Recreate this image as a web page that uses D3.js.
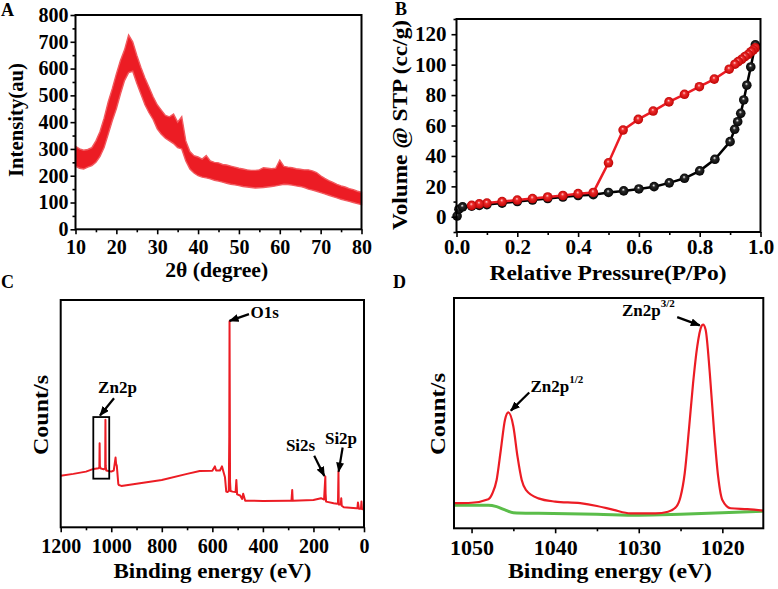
<!DOCTYPE html>
<html><head><meta charset="utf-8">
<script src="https://cdn.jsdelivr.net/npm/d3@7"></script>
<style>
body{margin:0;background:#fff;}
svg{display:block;}
</style>
</head><body>
<svg id="c" width="778" height="589"></svg>
<script>
// ---------------- DATA ----------------
// Panel A: XRD (noisy band: upper and lower envelopes)
const xrdAngle = [10,11,12,13,14,15,16,17,18,19,20,21,22,23,24,25,26,27,28,29,30,31,32,33,34,35,36,37,38,39,40,41,42,43,44,45,46,47,48,49,50,51,52,53,54,55,56,57,58,59,60,61,62,63,64,65,66,67,68,69,70,71,72,73,74,75,76,77,78,79,80];
const xrdUpper = [310,300,295,298,305,330,365,415,475,525,580,630,670,725,700,650,605,565,530,495,465,445,425,420,430,400,420,330,290,275,270,262,275,255,250,248,242,240,236,232,228,225,222,220,220,222,230,228,226,228,258,235,232,230,226,224,222,222,218,212,200,190,182,175,168,162,158,152,148,142,138];
const xrdLower = [235,228,225,232,238,250,272,305,355,405,450,505,555,585,590,545,505,465,435,410,375,355,340,330,320,305,300,255,225,210,200,195,192,188,183,180,176,172,168,166,163,160,158,156,154,155,156,158,160,162,165,168,167,165,162,160,156,150,146,142,137,132,127,122,117,112,108,104,100,96,92];
const aXTicks = [10,20,30,40,50,60,70,80];
const aXMinor = [15,25,35,45,55,65,75];
const aYTicks = [0,100,200,300,400,500,600,700,800];
const aYMinor = [50,150,250,350,450,550,650,750];

// Panel B: N2 isotherm
const adsP = [0.002,0.008,0.02,0.05,0.075,0.1,0.15,0.2,0.25,0.3,0.35,0.4,0.45,0.5,0.55,0.6,0.65,0.7,0.75,0.8,0.85,0.9,0.915,0.925,0.935,0.945,0.955,0.968,0.983];
const adsV = [0.5,5,6.5,7,7.5,8,9,10,11,12,13,14,14.5,16,17,18.3,19.8,22.3,25.3,30.2,37.8,49.4,57.5,62.5,68,76.8,86.5,98.5,113];
const desP = [0.983,0.976,0.969,0.96,0.949,0.938,0.927,0.916,0.897,0.848,0.799,0.75,0.699,0.647,0.598,0.548,0.5,0.45,0.4,0.35,0.3,0.25,0.2,0.15,0.1,0.075,0.05];
const desV = [111,109.6,108.5,106.8,105.3,103.5,102,100.3,97,90.5,85.5,80.5,75.5,69.5,64,57,35.5,16,15.2,14,13,12,11,10,9,8.5,7.5];
const bXTicks = [0,0.2,0.4,0.6,0.8,1.0];
const bXMinor = [0.1,0.3,0.5,0.7,0.9];
const bYTicks = [0,20,40,60,80,100,120];
const bYMinor = [-10,10,30,50,70,90,110,130];

// Panel C: XPS survey (relative counts)
const surveyE = [1200,1150,1100,1070,1050,1047,1046,1045,1043,1030,1024,1023,1022,1020,1000,990,983,981,978,972,970,960,900,800,700,650,600,590,585,570,562,555,550,545,540,535,533,532,530,528,520,508,505,502,490,482,478,470,400,300,287,284,282,200,170,158,153,152,150,120,106,103,101,100,92,90,88,80,30,26,24,20,12,10,8,0];
const surveyI = [22.7,23.5,24.5,25.7,26,26.5,37,27,26,25.5,26,47.3,27,25,24.5,25,30.7,28,27,19,18.6,18.2,19.2,20.8,23.5,24.8,24.9,26.8,25,25,26.8,24,22,15.7,15.5,16,40,90.6,20,16,15.7,15.5,20.8,14.5,14,12.5,14.8,11.7,11.6,11.7,11.7,16.4,11.7,12,12.8,12.2,22.3,15,11.3,10.6,10.4,10.6,24.5,10,10,12.8,9.5,8.8,8.4,8.4,10.9,8.2,8.2,11.3,8,7.8];
const cXTicks = [1200,1000,800,600,400,200,0];
const cXMinor = [1100,900,700,500,300,100];

// Panel D: Zn2p high resolution
const zn2pE = [1052.1,1050,1048,1047.5,1047,1046.5,1046,1045.6,1045,1044.5,1044,1043.5,1042,1040,1037,1035,1033,1031,1028,1026.5,1025.5,1025,1024.5,1024,1023.5,1023,1022.5,1022.3,1022,1021.5,1021,1020.5,1020,1019,1017,1015.1];
const zn2pI = [10.9,11.1,12.6,15.2,21,34,47.1,50.3,44.2,31.1,21,16.7,13,11.6,10.9,9.7,8,6.5,6.5,7.2,9.4,13.7,23.9,42.7,63,79,87.7,88.4,86.2,67.4,42.7,22.4,12.3,8.7,8.3,7.7];
const bgE = [1052.1,1048,1047,1046,1045,1042,1035,1030,1025,1020,1015.1];
const bgI = [10,10,9.4,8,6.8,6.5,6.1,5.7,6.1,6.7,7.4];
const dXTicks = [1050,1040,1030,1020];
const dXMinor = [1045,1035,1025];

// ---------------- DRAW ----------------
const RED = "#ec1c24", GREEN = "#5bbd4a";
const FONT = "'Liberation Serif','Times New Roman',serif";
const svg = d3.select("#c").attr("font-family", FONT).attr("font-weight", "bold");
const defs = svg.append("defs");
defs.append("marker").attr("id","arr").attr("viewBox","0 0 10 8").attr("refX",9).attr("refY",4)
  .attr("markerWidth",10).attr("markerHeight",8).attr("markerUnits","userSpaceOnUse").attr("orient","auto")
  .append("path").attr("d","M0,0L10,4L0,8z").attr("fill","#000");
function ballGrad(id, hi, mid, edge){
  const g = defs.append("radialGradient").attr("id",id).attr("cx","50%").attr("cy","50%").attr("r","55%").attr("fx","45%").attr("fy","35%");
  g.append("stop").attr("offset","0%").attr("stop-color",hi);
  g.append("stop").attr("offset","30%").attr("stop-color",mid);
  g.append("stop").attr("offset","100%").attr("stop-color",edge);
}
ballGrad("gBlack","#ffffff","#2a2a2a","#000000");
ballGrad("gRed","#ffd0d0","#ee2a2a","#b80000");

function axes(g, x, y, o){
  const yb = y.range()[0], yt = y.range()[1], xl = x.range()[0], xr = x.range()[1];
  const ax = g.append("g").attr("transform",`translate(0,${yb})`)
    .call(d3.axisBottom(x).tickValues(o.xt).tickFormat(o.xf).tickSize(5).tickPadding(o.xpad));
  const axm = g.append("g").attr("transform",`translate(0,${yb})`)
    .call(d3.axisBottom(x).tickValues(o.xm).tickFormat("").tickSize(3));
  [ax, axm].forEach(a => { a.select(".domain").remove(); a.attr("font-family",null).attr("font-size",null);
    a.selectAll("line").attr("stroke","#000").attr("stroke-width",1.6); });
  ax.selectAll("text").attr("font-size",o.fs).attr("fill","#000");
  if (o.yt){
    const ay = g.append("g").attr("transform",`translate(${xl},0)`)
      .call(d3.axisLeft(y).tickValues(o.yt).tickFormat(o.yf).tickSize(5).tickPadding(o.ypad));
    const aym = g.append("g").attr("transform",`translate(${xl},0)`)
      .call(d3.axisLeft(y).tickValues(o.ym).tickFormat("").tickSize(3));
    [ay, aym].forEach(a => { a.select(".domain").remove(); a.attr("font-family",null).attr("font-size",null);
      a.selectAll("line").attr("stroke","#000").attr("stroke-width",1.6); });
    ay.selectAll("text").attr("font-size",o.fs).attr("fill","#000");
  }
  g.append("rect").attr("x",xl).attr("y",yt).attr("width",xr-xl).attr("height",yb-yt)
    .attr("fill","none").attr("stroke","#000").attr("stroke-width",2);
}
function title(x, y, txt, fs, len, rot){
  const t = svg.append("text").attr("font-size",fs).attr("text-anchor","middle").text(txt)
    .attr("textLength",len).attr("lengthAdjust","spacingAndGlyphs");
  if (rot) t.attr("transform",`translate(${x},${y}) rotate(-90)`);
  else t.attr("x",x).attr("y",y);
}
function letter(x,y,t){ svg.append("text").attr("x",x).attr("y",y).attr("font-size",18).text(t); }

// ---- Panel A ----
{
  const x = d3.scaleLinear().domain([10,80]).range([75.5,361.5]);
  const y = d3.scaleLinear().domain([0,800]).range([229.3,15]);
  const g = svg.append("g");
  const band = xrdAngle.map((a,i)=>({a, hi:xrdUpper[i], lo:xrdLower[i]}));
  g.append("path").datum(band).attr("fill",RED).attr("stroke","#f25a5f").attr("stroke-width",1.4)
    .attr("d", d3.area().x(d=>x(d.a)).y0(d=>y(d.lo)).y1(d=>y(d.hi)));
  axes(g, x, y, {xt:aXTicks, xm:aXMinor, xf:d3.format("d"), xpad:6, yt:aYTicks, ym:aYMinor, yf:d3.format("d"), ypad:2, fs:20});
  title(216.7, 277, "2θ (degree)", 20, 103);
  title(23, 120, "Intensity(au)", 20, 114, true);
  letter(1, 16, "A");
}
// ---- Panel B ----
{
  const x = d3.scaleLinear().domain([0,1]).range([456.5,760.5]);
  const y = d3.scaleLinear().domain([-10,130]).range([232,19]);
  const g = svg.append("g");
  const line = d3.line().x(d=>x(d[0])).y(d=>y(d[1]));
  const ads = adsP.map((p,i)=>[p,adsV[i]]);
  const des = desP.map((p,i)=>[p,desV[i]]);
  g.append("path").datum(ads).attr("fill","none").attr("stroke","#000").attr("stroke-width",2.5).attr("d",line);
  g.selectAll(".ba").data(ads).join("circle").attr("cx",d=>x(d[0])).attr("cy",d=>y(d[1])).attr("r",4.8).attr("fill","url(#gBlack)");
  g.append("path").datum(des).attr("fill","none").attr("stroke",RED).attr("stroke-width",2.5).attr("d",line);
  g.selectAll(".bd").data(des).join("circle").attr("cx",d=>x(d[0])).attr("cy",d=>y(d[1])).attr("r",4.8).attr("fill","url(#gRed)");
  axes(g, x, y, {xt:bXTicks, xm:bXMinor, xf:d3.format(".1f"), xpad:2.5, yt:bYTicks, ym:bYMinor, yf:d3.format("d"), ypad:5, fs:21});
  title(608, 280, "Relative Pressure(P/Po)", 21, 237);
  title(407, 125, "Volume @ STP (cc/g)", 21, 210, true);
  letter(395, 15, "B");
}
// ---- Panel C ----
{
  const x = d3.scaleLinear().domain([1200,0]).range([60.7,364]);
  const y = d3.scaleLinear().domain([0,100]).range([527.3,300]);
  const g = svg.append("g");
  const pts = surveyE.map((e,i)=>[e,surveyI[i]]);
  g.append("path").datum(pts).attr("fill","none").attr("stroke",RED).attr("stroke-width",2).attr("stroke-linejoin","round")
    .attr("d", d3.line().x(d=>x(d[0])).y(d=>y(d[1])));
  axes(g, x, y, {xt:cXTicks, xm:cXMinor, xf:d3.format("d"), xpad:6.5, fs:20});
  // Zn2p box
  const box = {e0:1071, e1:1008, v0:21.4, v1:48.5};
  g.append("rect").attr("x",x(box.e0)).attr("y",y(box.v1)).attr("width",x(box.e1)-x(box.e0)).attr("height",y(box.v0)-y(box.v1))
    .attr("fill","none").attr("stroke","#000").attr("stroke-width",1.8);
  const labels = [{t:"O1s",e:449,v:92.2},{t:"Zn2p",e:1052,v:59.2},{t:"Si2s",e:309,v:33.6},{t:"Si2p",e:154.6,v:36.7}];
  const arrows = [{e0:455,v0:93.8,e1:532,v1:90.8},{e0:989,v0:56.8,e1:1044.5,v1:49.2},{e0:197,v0:31.5,e1:157,v1:22.6},{e0:84.5,v0:35.1,e1:100.3,v1:24.5}];
  labels.forEach(l=>g.append("text").attr("x",x(l.e)).attr("y",y(l.v)).attr("font-size",17).text(l.t));
  arrows.forEach(a=>g.append("line").attr("x1",x(a.e0)).attr("y1",y(a.v0)).attr("x2",x(a.e1)).attr("y2",y(a.v1))
    .attr("stroke","#000").attr("stroke-width",2.2).attr("marker-end","url(#arr)"));
  title(212.5, 578, "Binding energy (eV)", 21, 198);
  title(48, 415, "Count/s", 21, 80, true);
  letter(1, 288, "C");
}
// ---- Panel D ----
{
  const x = d3.scaleLinear().domain([1052.1,1015.1]).range([454,763.3]);
  const y = d3.scaleLinear().domain([0,100]).range([528.3,298]);
  const g = svg.append("g");
  const line = d3.line().curve(d3.curveMonotoneX).x(d=>x(d[0])).y(d=>y(d[1]));
  g.append("path").datum(bgE.map((e,i)=>[e,bgI[i]])).attr("fill","none").attr("stroke",GREEN).attr("stroke-width",3).attr("d",line);
  g.append("path").datum(zn2pE.map((e,i)=>[e,zn2pI[i]])).attr("fill","none").attr("stroke",RED).attr("stroke-width",2.2).attr("d",line);
  axes(g, x, y, {xt:dXTicks, xm:dXMinor, xf:d3.format("d"), xpad:6, fs:22});
  const labels = [{t:"Zn2p",s:"1/2",e:1042.95,v:59.4},{t:"Zn2p",s:"3/2",e:1032,v:92}];
  const arrows = [{e0:1043.1,v0:59,e1:1045.3,v1:51.1},{e0:1025.4,v0:91.7,e1:1022.7,v1:88.1}];
  labels.forEach(l=>{
    const t = g.append("text").attr("x",x(l.e)).attr("y",y(l.v)).attr("font-size",17);
    t.append("tspan").text(l.t);
    t.append("tspan").attr("font-size",11).attr("dy",-9).text(l.s);
  });
  arrows.forEach(a=>g.append("line").attr("x1",x(a.e0)).attr("y1",y(a.v0)).attr("x2",x(a.e1)).attr("y2",y(a.v1))
    .attr("stroke","#000").attr("stroke-width",2.2).attr("marker-end","url(#arr)"));
  title(610, 578, "Binding energy (eV)", 21, 204);
  title(445, 414, "Count/s", 21, 82, true);
  letter(393, 288, "D");
}
</script>
</body></html>
